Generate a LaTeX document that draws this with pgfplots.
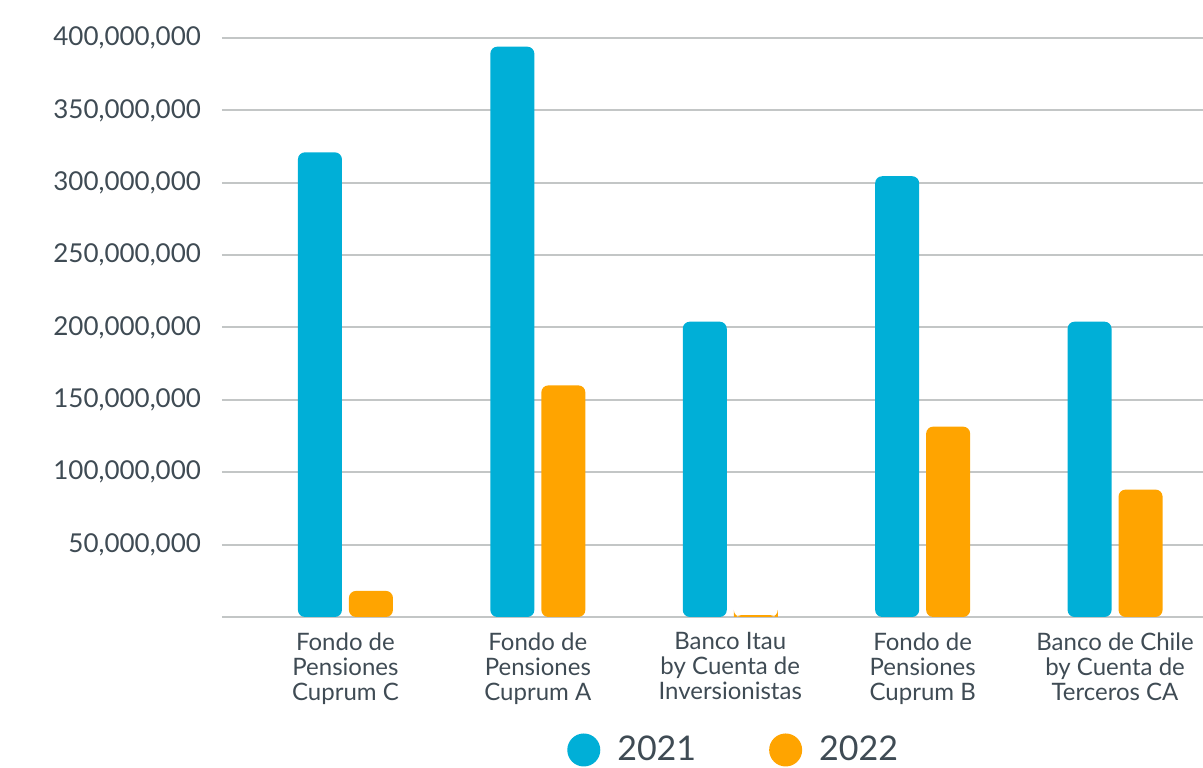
\documentclass[border=0pt]{standalone}
\usepackage{fontspec}
\setmainfont{Lato}
\usepackage{pgfplots}
\pgfplotsset{compat=1.18}
\usetikzlibrary{calc}
\definecolor{c21}{HTML}{00AFD7}
\definecolor{c22}{HTML}{FFA400}
\definecolor{txt}{HTML}{3F4B54}
\definecolor{grd}{HTML}{C3C6C6}

\begin{document}
\begin{tikzpicture}
\begin{axis}[
    name=ax,
    scale only axis,
    width=490.5pt, height=289.5pt,
    ybar=3.5pt, bar width=22pt,
    xmin=-0.6416, xmax=4.457,
    ymin=0, ymax=400000000,
    axis x line*=bottom, axis y line*=left,
    y axis line style={draw=none},
    x axis line style={grd, line width=1.2pt, -},
    tick style={draw=none},
    ymajorgrids, grid style={grd, line width=1pt},
    ytick={50000000,100000000,150000000,200000000,250000000,300000000,350000000,400000000},
    scaled y ticks=false,
    /pgf/number format/assume math mode=true,
    yticklabel style={/pgf/number format/fixed, /pgf/number format/precision=0,
                      /pgf/number format/1000 sep={,},
                      font=\fontsize{13}{15}\selectfont, text=txt, xshift=-7pt},
    xtick={0,1,2,3,4},
    xticklabels={Fondo de\\Pensiones\\Cuprum C, Fondo de\\Pensiones\\Cuprum A,
                 Banco Itau\\by Cuenta de\\Inversionistas, Fondo de\\Pensiones\\Cuprum B,
                 Banco de Chile\\by Cuenta de\\Terceros CA},
    xticklabel style={align=center, font=\fontsize{12}{12.5}\selectfont, text=txt},
    legend columns=2,
    legend style={at={(0.5226,0)}, anchor=center, yshift=-66.5pt, draw=none,
                  font=\fontsize{17}{20}\selectfont, text=txt,
                  /tikz/every odd column/.append style={column sep=6.5pt},
                  /tikz/every even column/.append style={column sep=34.5pt}},
    dot legend/.style={legend image code/.code={\fill[##1] (4pt,0pt) circle (8.25pt);}},
]
\addplot[fill=c21, draw=none, rounded corners=3.5pt, dot legend]
    coordinates {(0,321000000) (1,394000000) (2,204000000) (3,304500000) (4,204000000)};
\addlegendentry{2021}
\addplot[fill=c22, draw=none, rounded corners=3.5pt, dot legend]
    coordinates {(0,18000000) (1,160000000) (2,1200000) (3,131500000) (4,88000000)};
\addlegendentry{2022}
\end{axis}
\pgfresetboundingbox
\path[use as bounding box] ($(ax.south west)+(-111pt,-75.5pt)$) rectangle ($(ax.north east)+(0pt,19pt)$);
\end{tikzpicture}
\end{document}
